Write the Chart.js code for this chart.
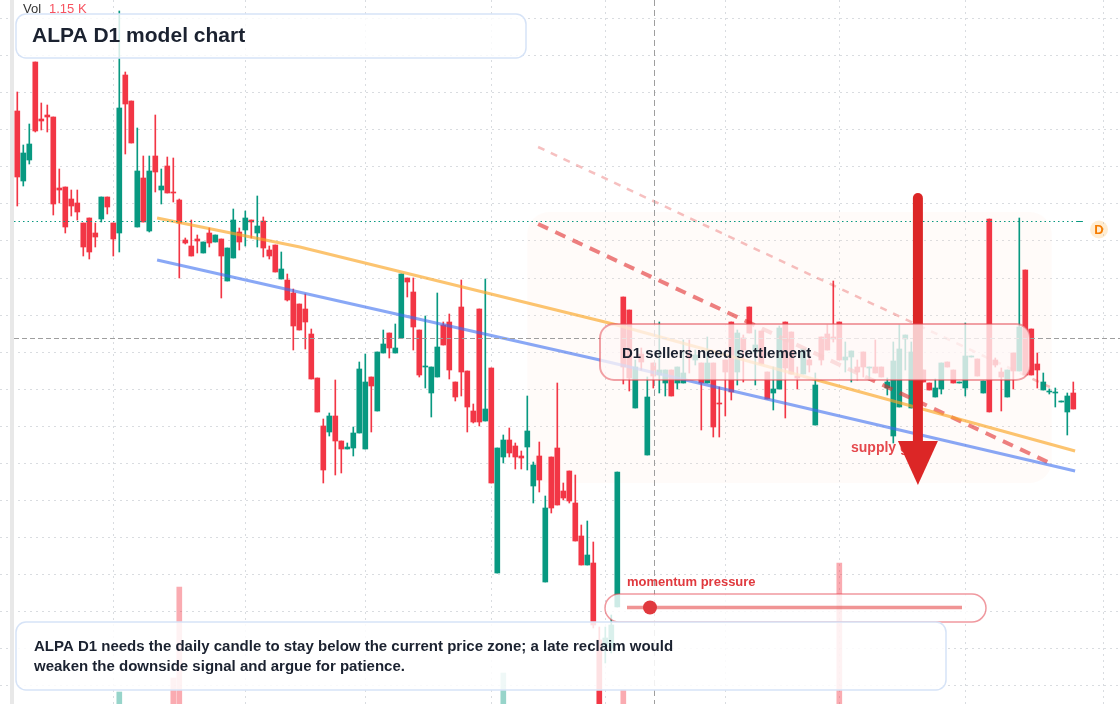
<!DOCTYPE html>
<html>
<head>
<meta charset="utf-8">
<title>ALPA D1 model chart</title>
<script src="https://cdn.jsdelivr.net/npm/chart.js@4.4.0/dist/chart.umd.min.js"></script>
<style>
  html, body { margin: 0; padding: 0; background: #ffffff; }
  #wrap { position: relative; width: 1120px; height: 704px; }
</style>
</head>
<body>
<div id="wrap"><canvas id="chart"></canvas></div>
<script>
// daily candles, oldest first (price units)
const opens = [6.49,5.79,6.00,6.98,6.41,6.45,6.43,5.72,5.73,5.61,5.57,5.37,5.42,5.27,5.41,5.63,5.37,5.27,6.85,6.59,
  5.33,5.82,5.29,6.04,5.70,5.94,5.68,5.60,5.20,5.14,5.21,5.07,5.27,5.18,5.21,4.79,5.02,5.28,5.30,5.40,
  5.27,5.39,5.10,5.15,4.81,4.80,4.67,4.56,4.51,4.26,3.82,3.34,3.28,3.44,3.19,3.11,3.12,3.27,3.11,3.83,
  3.49,4.07,4.27,4.07,4.22,4.82,4.68,4.30,3.93,3.67,3.83,4.35,4.38,3.78,4.53,3.89,3.49,4.51,3.39,3.92,
  1.87,3.03,3.20,3.14,3.04,3.13,2.74,3.04,1.78,3.03,3.12,2.69,2.89,2.57,2.24,1.95,1.97,1.20,1.13,1.12,
  1.53,4.63,4.50,3.52,4.06,3.05,3.97,3.85,3.77,3.90,3.77,3.77,4.05,4.00,3.97,3.77,3.97,3.57,4.00,4.38,
  3.88,4.22,4.53,4.08,4.29,3.88,3.67,3.71,4.38,4.28,3.84,3.86,4.00,3.35,4.23,4.26,4.23,4.38,4.00,4.03,
  3.93,4.08,3.92,3.93,3.93,3.72,3.24,3.53,4.21,3.52,3.80,3.90,3.77,3.63,3.71,3.98,3.90,3.77,3.72,4.03,
  4.01,3.67,5.41,4.00,3.88,3.63,4.07,3.89,4.90,4.31,3.96,3.70,3.68,3.67,3.58,3.48,3.67];
const highs = [6.68,6.15,6.36,6.98,6.57,6.55,6.43,5.91,5.73,5.70,5.70,5.37,5.42,5.37,5.63,5.63,5.37,7.49,6.88,6.59,
  6.32,6.04,6.04,6.45,5.91,6.03,6.02,5.61,5.22,5.40,5.25,5.18,5.32,5.25,5.21,5.12,5.51,5.32,5.49,5.40,
  5.64,5.43,5.14,5.15,5.08,4.86,4.71,4.56,4.66,4.31,3.82,3.41,3.47,3.80,3.19,3.17,3.33,3.98,4.06,3.83,
  4.08,4.30,4.27,4.36,4.86,4.82,4.82,4.30,4.44,3.93,4.67,4.38,4.46,3.78,4.80,3.89,3.56,4.51,4.81,3.92,
  3.12,3.25,3.32,3.17,3.09,3.64,2.98,3.18,2.64,3.03,3.77,2.77,2.89,2.85,2.35,2.39,2.18,1.33,1.33,1.45,
  2.88,4.63,4.50,4.00,4.12,3.83,3.97,4.38,3.90,3.90,3.93,4.20,4.20,4.10,3.97,4.23,3.97,3.73,4.00,4.38,
  4.30,4.25,4.53,4.30,4.29,3.88,3.93,4.34,4.38,4.28,3.93,4.11,4.05,3.87,4.23,4.35,4.79,4.38,4.18,4.09,
  4.00,4.08,3.93,4.20,3.93,3.82,4.18,4.35,4.25,4.18,4.00,3.90,3.77,3.81,3.97,3.98,3.90,3.78,4.37,4.04,
  4.01,3.79,5.41,4.02,3.92,3.90,4.07,5.42,4.90,4.31,4.07,3.87,3.71,3.72,3.59,3.67,3.78];
const lows = [5.54,5.74,5.96,6.28,6.30,6.28,5.45,5.57,5.27,5.44,5.40,5.04,5.01,5.13,5.38,5.46,5.04,5.08,6.06,6.17,
  5.33,5.38,5.28,5.68,5.56,5.67,5.58,4.82,5.16,5.04,5.07,5.07,5.13,5.18,4.62,4.79,5.02,5.10,5.14,5.22,
  5.13,5.03,5.01,4.88,4.81,4.59,4.10,4.30,4.11,3.81,3.48,2.77,3.24,2.85,2.87,3.11,3.04,3.27,3.11,3.28,
  3.49,4.07,4.02,4.07,4.22,4.63,4.10,3.83,3.72,3.43,3.83,4.15,3.81,3.59,3.64,3.28,3.37,3.34,3.39,2.77,
  1.87,2.97,3.03,2.91,2.91,2.90,2.57,2.68,1.78,2.47,2.55,2.60,2.57,2.19,1.95,1.95,1.32,0.40,0.97,1.07,
  1.53,3.76,3.69,3.52,3.90,3.05,3.72,3.67,3.64,3.64,3.71,3.77,3.87,3.95,3.30,3.77,3.23,3.23,3.44,3.60,
  3.75,3.78,4.27,3.75,3.96,3.61,3.50,3.71,3.42,3.86,3.71,3.86,3.88,3.35,3.95,4.10,4.18,4.00,3.88,3.78,
  3.80,3.83,3.80,3.87,3.83,3.65,3.17,3.53,3.90,3.52,3.75,3.78,3.70,3.63,3.66,3.93,3.77,3.77,3.64,4.03,
  3.84,3.67,3.48,3.93,3.49,3.63,3.71,3.89,3.85,3.85,3.72,3.70,3.66,3.53,3.58,3.25,3.51];
const closes = [5.83,6.07,6.16,6.29,6.39,6.43,5.56,5.70,5.33,5.54,5.48,5.13,5.08,5.23,5.63,5.53,5.21,6.52,6.56,6.17,
  5.89,5.38,5.89,5.88,5.74,5.67,5.67,5.37,5.17,5.04,5.19,5.18,5.17,5.25,5.04,5.12,5.40,5.18,5.42,5.38,
  5.34,5.12,5.04,4.88,4.91,4.60,4.34,4.30,4.38,3.81,3.48,2.90,3.44,3.19,3.11,3.13,3.27,3.91,3.78,3.74,
  4.08,4.16,4.12,4.12,4.86,4.78,4.33,3.85,3.94,3.93,4.13,4.15,3.90,3.63,3.88,3.53,3.38,3.38,3.51,2.77,
  3.12,3.20,3.07,3.03,3.02,3.29,2.95,2.80,2.52,2.52,2.55,2.62,2.59,2.19,1.95,2.05,1.35,0.44,1.22,1.35,
  2.88,3.93,3.82,3.93,3.98,3.63,3.84,3.90,3.90,3.64,3.93,3.87,4.02,4.05,3.77,3.97,3.33,3.56,3.88,3.68,
  4.27,4.10,4.27,4.15,3.96,3.61,3.71,4.32,3.92,3.86,3.82,4.11,3.95,3.75,4.00,4.10,4.21,4.00,4.03,4.09,
  3.88,3.93,3.93,3.87,3.83,3.78,3.99,4.11,4.25,4.08,3.95,3.78,3.70,3.72,3.97,3.93,3.77,3.78,4.04,4.04,
  3.84,3.79,3.48,3.95,3.83,3.90,3.89,4.33,3.85,3.85,3.90,3.78,3.69,3.68,3.59,3.64,3.51];

// the only volume bars that reach into view (candle index, thousands)
const volumeIndex = [17, 26, 27, 81, 101, 137];
const volumeValues = [0.72, 0.86, 1.77, 0.91, 0.74, 2.01];

// drawn lines: [candle index, price]
const orangeTrend = [[23.3, 5.42], [47.1, 5.13], [99.3, 4.36], [176.3, 3.09]];
const blueTrend = [[23.3, 5.00], [97.1, 4.00], [176.3, 2.89]];
const redChannel = [[86.8, 5.36], [172.8, 2.95]];
const redChannelUpper = [[86.8, 6.13], [172.1, 3.73]];

// levels and markers
const lastCloseLevel = 5.39;
const crosshair = { index: 106.1, price: 4.22 };
const supplyZone = { from: 85.0, to: 172.4, top: 5.48, bottom: 2.77 };
const arrowMark = { index: 150.1, top: 5.62, tip: 2.75 };

// grid positions (date and price ticks)
const xGridTicks = [16, 38, 58, 79, 98, 118, 137, 158, 181];
const yGridTicks = [7.415, 7.044, 6.673, 6.303, 5.932, 5.561, 5.190, 4.819, 4.449, 4.078,
  3.707, 3.336, 2.965, 2.595, 2.224, 1.853, 1.482, 1.111, 0.741];

const UP = '#089981';
const DOWN = '#F23645';
const FONT = '"Liberation Sans", Arial, sans-serif';

const isUp = i => closes[i] >= opens[i];
const candleColor = ctx => {
    const i = ctx.raw ? ctx.raw.x : ctx.dataIndex;
    return isUp(i) ? UP : DOWN;
};

const idx = opens.map((_, i) => i);
const wickData = idx.map(i => ({ x: i, y: [lows[i], highs[i]] }));
const bodyData = idx.map(i => ({ x: i, y: [opens[i], closes[i]] }));
const volData = volumeIndex.map((i, k) => ({ x: i, y: volumeValues[k] }));
const toPoints = arr => arr.map(p => ({ x: p[0], y: p[1] }));

function roundRect(ctx, x, y, w, h, r) {
    ctx.beginPath();
    ctx.moveTo(x + r, y);
    ctx.arcTo(x + w, y, x + w, y + h, r);
    ctx.arcTo(x + w, y + h, x, y + h, r);
    ctx.arcTo(x, y + h, x, y, r);
    ctx.arcTo(x, y, x + w, y, r);
    ctx.closePath();
}

function panel(ctx, x, y, w, h, r, fill, stroke, lw) {
    roundRect(ctx, x, y, w, h, r);
    ctx.fillStyle = fill;
    ctx.fill();
    ctx.lineWidth = lw;
    ctx.strokeStyle = stroke;
    ctx.stroke();
}

const overlay = {
    id: 'overlay',
    beforeDatasetsDraw(chart) {
        const { ctx, scales: { x, y } } = chart;
        ctx.save();
        // left pane edge
        ctx.fillStyle = '#e8e8e8';
        ctx.fillRect(10, 0, 4, chart.height);
        // supply zone
        const zx0 = x.getPixelForValue(supplyZone.from), zx1 = x.getPixelForValue(supplyZone.to);
        const zy0 = y.getPixelForValue(supplyZone.top), zy1 = y.getPixelForValue(supplyZone.bottom);
        roundRect(ctx, zx0, zy0, zx1 - zx0, zy1 - zy0, 22);
        ctx.fillStyle = 'rgba(255, 226, 208, 0.12)';
        ctx.fill();
        ctx.restore();
    },
    afterDatasetsDraw(chart) {
        const { ctx, scales: { x, y } } = chart;
        ctx.save();

        // last close level (dotted)
        const ly = Math.round(y.getPixelForValue(lastCloseLevel)) + 0.5;
        const lEnd = x.getPixelForValue(177.6);
        ctx.strokeStyle = UP;
        ctx.lineWidth = 1;
        ctx.setLineDash([1.5, 3]);
        ctx.beginPath(); ctx.moveTo(14, ly); ctx.lineTo(lEnd - 6, ly); ctx.stroke();
        ctx.setLineDash([]);
        ctx.beginPath(); ctx.moveTo(lEnd - 6, ly); ctx.lineTo(lEnd, ly); ctx.stroke();

        // crosshair
        const cx = Math.round(x.getPixelForValue(crosshair.index)) + 0.5;
        const cy = Math.round(y.getPixelForValue(crosshair.price)) + 0.5;
        ctx.strokeStyle = '#9e9e9e';
        ctx.setLineDash([6, 4]);
        ctx.beginPath(); ctx.moveTo(cx, 0); ctx.lineTo(cx, chart.height); ctx.stroke();
        ctx.setLineDash([5, 3]);
        ctx.beginPath(); ctx.moveTo(14, cy); ctx.lineTo(chart.width, cy); ctx.stroke();
        ctx.setLineDash([]);

        // label under the arrow
        ctx.fillStyle = '#e5484d';
        ctx.font = 'bold 14px ' + FONT;
        ctx.textBaseline = 'middle';
        ctx.fillText('supply gate', 851, 448);

        // big down arrow
        const ax = x.getPixelForValue(arrowMark.index);
        const aTop = y.getPixelForValue(arrowMark.top);
        const aTip = y.getPixelForValue(arrowMark.tip);
        ctx.strokeStyle = '#dc2626';
        ctx.fillStyle = '#dc2626';
        ctx.lineWidth = 10;
        ctx.lineCap = 'round';
        ctx.beginPath(); ctx.moveTo(ax, aTop); ctx.lineTo(ax, aTip - 40); ctx.stroke();
        ctx.lineCap = 'butt';
        ctx.beginPath();
        ctx.moveTo(ax - 20, aTip - 44); ctx.lineTo(ax + 20, aTip - 44); ctx.lineTo(ax, aTip);
        ctx.closePath(); ctx.fill();

        // annotation box
        panel(ctx, 600, 324, 430, 56, 14, 'rgba(255, 247, 247, 0.78)', 'rgba(228, 70, 80, 0.5)', 2);
        ctx.fillStyle = '#1b2230';
        ctx.font = 'bold 15px ' + FONT;
        ctx.fillText('D1 sellers need settlement', 622, 354);

        // momentum slider
        ctx.fillStyle = '#e0393e';
        ctx.font = 'bold 13px ' + FONT;
        ctx.fillText('momentum pressure', 627, 582);
        panel(ctx, 605, 594, 381, 28, 14, 'rgba(255, 255, 255, 0.8)', 'rgba(228, 70, 80, 0.55)', 1.5);
        ctx.strokeStyle = 'rgba(232, 90, 90, 0.65)';
        ctx.lineWidth = 3.5;
        ctx.beginPath(); ctx.moveTo(627, 607.5); ctx.lineTo(962, 607.5); ctx.stroke();
        ctx.fillStyle = '#e0393e';
        ctx.beginPath(); ctx.arc(650, 607.5, 7, 0, Math.PI * 2); ctx.fill();

        // title box
        panel(ctx, 16, 14, 510, 44, 10, 'rgba(255, 255, 255, 0.82)', '#d6e3f7', 1.5);
        ctx.fillStyle = '#1b2230';
        ctx.font = 'bold 21px ' + FONT;
        ctx.fillText('ALPA D1 model chart', 32, 36);

        // note box
        panel(ctx, 16, 622, 930, 68, 10, 'rgba(255, 255, 255, 0.85)', '#d6e3f7', 1.5);
        ctx.fillStyle = '#1b2230';
        ctx.font = 'bold 15px ' + FONT;
        ctx.fillText('ALPA D1 needs the daily candle to stay below the current price zone; a late reclaim would', 34, 647);
        ctx.fillText('weaken the downside signal and argue for patience.', 34, 667);

        // volume readout
        ctx.font = '13px ' + FONT;
        ctx.fillStyle = '#333333';
        ctx.fillText('Vol', 23, 9);
        ctx.fillStyle = '#f7525f';
        ctx.fillText('1.15 K', 49, 9);

        // D marker
        ctx.fillStyle = 'rgba(255, 183, 77, 0.25)';
        ctx.beginPath(); ctx.arc(1099, 229.5, 9, 0, Math.PI * 2); ctx.fill();
        ctx.fillStyle = '#f57c00';
        ctx.font = 'bold 13px ' + FONT;
        ctx.textAlign = 'center';
        ctx.fillText('D', 1099, 230);

        ctx.restore();
    }
};

const gridScale = (min, max, ticks) => ({
    type: 'linear',
    min: min,
    max: max,
    bounds: 'data',
    offset: false,
    beginAtZero: false,
    ticks: { display: false },
    grid: { color: '#d9dce0', lineWidth: 1, drawTicks: false, offset: false },
    border: { display: false, dash: [2, 4] },
    afterBuildTicks: axis => { axis.ticks = ticks.map(v => ({ value: v })); }
});

new Chart(document.getElementById('chart').getContext('2d'), {
    type: 'bar',
    data: {
        datasets: [
            { type: 'line', data: toPoints(orangeTrend), borderColor: 'rgba(251, 165, 36, 0.65)', borderWidth: 3,
              pointRadius: 0, fill: false, tension: 0, order: 0 },
            { type: 'line', data: toPoints(blueTrend), borderColor: 'rgba(59, 110, 240, 0.6)', borderWidth: 3,
              pointRadius: 0, fill: false, tension: 0, order: 0 },
            { type: 'line', data: toPoints(redChannel), borderColor: 'rgba(225, 45, 45, 0.6)', borderWidth: 4,
              borderDash: [11, 8], pointRadius: 0, fill: false, tension: 0, order: 0 },
            { type: 'line', data: toPoints(redChannelUpper), borderColor: 'rgba(225, 45, 45, 0.3)', borderWidth: 2.5,
              borderDash: [7, 7], pointRadius: 0, fill: false, tension: 0, order: 0 },
            { data: bodyData, backgroundColor: candleColor, barThickness: 5, minBarLength: 1,
              grouped: false, order: 1 },
            { data: wickData, backgroundColor: candleColor, barThickness: 1, minBarLength: 1,
              grouped: false, order: 2 },
            { data: volData, yAxisID: 'yv', barThickness: 5, grouped: false, order: 3,
              backgroundColor: ctx => (ctx.raw && isUp(ctx.raw.x)) ? 'rgba(8, 153, 129, 0.42)' : 'rgba(242, 54, 69, 0.42)' }
        ]
    },
    options: {
        responsive: true,
        maintainAspectRatio: false,
        animation: false,
        layout: { padding: 0 },
        plugins: { legend: { display: false }, tooltip: { enabled: false } },
        scales: {
            x: gridScale(-2.883, 183.783, xGridTicks),
            y: gridScale(0.56, 7.60, yGridTicks),
            yv: { type: 'linear', display: false, min: 0.6, max: 7.64, beginAtZero: false }
        }
    },
    plugins: [overlay]
});
</script>
</body>
</html>
